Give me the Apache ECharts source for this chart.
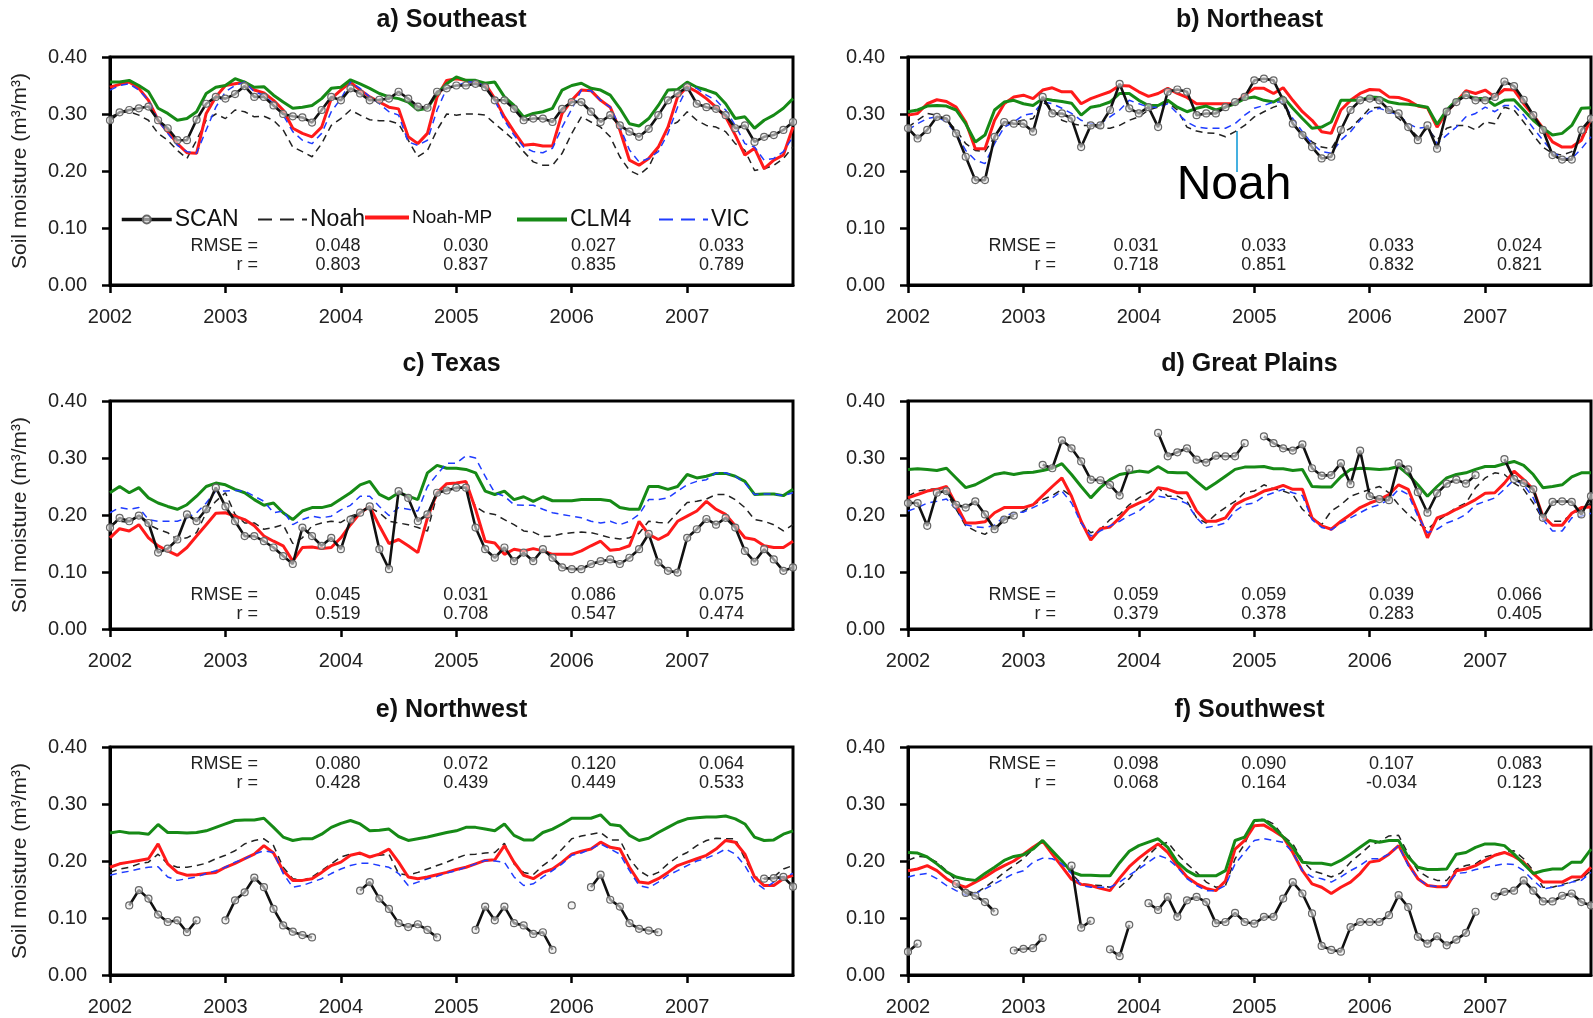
<!DOCTYPE html>
<html>
<head>
<meta charset="utf-8">
<title>Soil moisture, SCAN vs models</title>
<script src="https://cdn.jsdelivr.net/npm/echarts@6/dist/echarts.min.js"></script>
<style>
  html, body { margin: 0; padding: 0; background: #fff; }
  #chart { width: 1593px; height: 1018px; }
</style>
</head>
<body>
<div id="chart"></div>
<script>
// monthly values, Jan 2002 .. Dec 2007 (72 months), null = no SCAN data
const months = []
for (let y = 2002; y <= 2007; y++) {
  for (let m = 1; m <= 12; m++) months.push(y + '-' + (m < 10 ? '0' + m : m))
}

// a) Southeast
const seScan = [0.289,0.303,0.307,0.310,0.313,0.289,0.275,0.254,0.254,0.290,0.318,0.330,
  0.327,0.335,0.349,0.330,0.330,0.315,0.300,0.296,0.294,0.285,0.307,0.330,
  0.324,0.345,0.336,0.324,0.325,0.327,0.339,0.327,0.313,0.311,0.339,0.345,
  0.350,0.350,0.353,0.347,0.324,0.324,0.309,0.289,0.292,0.292,0.286,0.309,
  0.321,0.321,0.304,0.286,0.298,0.280,0.269,0.260,0.274,0.298,0.324,0.336,
  0.347,0.318,0.312,0.309,0.298,0.275,0.280,0.251,0.260,0.263,0.272,0.286]
const seNoah = [0.295,0.302,0.304,0.298,0.289,0.266,0.254,0.236,0.222,0.254,0.289,0.300,
  0.292,0.307,0.304,0.295,0.296,0.289,0.272,0.242,0.234,0.225,0.248,0.280,
  0.292,0.307,0.298,0.290,0.288,0.288,0.283,0.254,0.225,0.236,0.272,0.300,
  0.298,0.300,0.300,0.298,0.283,0.269,0.254,0.234,0.216,0.210,0.210,0.231,
  0.266,0.295,0.286,0.277,0.260,0.225,0.201,0.193,0.207,0.242,0.277,0.286,
  0.304,0.289,0.280,0.277,0.269,0.248,0.236,0.201,0.204,0.210,0.222,0.242]
const seNoahMP = [0.347,0.352,0.356,0.345,0.324,0.289,0.269,0.248,0.232,0.231,0.301,0.330,
  0.350,0.353,0.356,0.342,0.337,0.324,0.307,0.275,0.266,0.260,0.277,0.327,
  0.342,0.356,0.342,0.330,0.321,0.312,0.309,0.260,0.248,0.266,0.330,0.359,
  0.362,0.359,0.356,0.353,0.327,0.295,0.269,0.245,0.247,0.244,0.244,0.301,
  0.324,0.342,0.341,0.324,0.312,0.272,0.219,0.210,0.222,0.242,0.277,0.330,
  0.348,0.339,0.327,0.312,0.295,0.263,0.228,0.240,0.204,0.219,0.228,0.277]
const seClm4 = [0.356,0.356,0.359,0.350,0.339,0.310,0.301,0.289,0.292,0.304,0.336,0.347,
  0.350,0.362,0.356,0.347,0.348,0.333,0.321,0.310,0.312,0.315,0.327,0.345,
  0.347,0.360,0.353,0.345,0.336,0.330,0.327,0.321,0.307,0.310,0.336,0.353,
  0.365,0.359,0.359,0.354,0.356,0.330,0.315,0.295,0.301,0.304,0.310,0.342,
  0.350,0.354,0.345,0.342,0.333,0.310,0.283,0.279,0.292,0.315,0.342,0.343,
  0.356,0.347,0.342,0.336,0.318,0.292,0.295,0.275,0.289,0.298,0.310,0.327]
const seVic = [0.342,0.350,0.353,0.342,0.324,0.289,0.266,0.245,0.234,0.231,0.272,0.312,
  0.339,0.350,0.356,0.339,0.333,0.318,0.298,0.269,0.254,0.248,0.266,0.304,
  0.327,0.356,0.345,0.330,0.318,0.304,0.298,0.251,0.245,0.254,0.307,0.345,
  0.349,0.356,0.356,0.349,0.324,0.289,0.263,0.242,0.234,0.232,0.240,0.277,
  0.309,0.342,0.341,0.324,0.312,0.277,0.237,0.216,0.222,0.234,0.266,0.312,
  0.346,0.345,0.333,0.324,0.307,0.280,0.248,0.242,0.219,0.222,0.234,0.260]

// b) Northeast
const neScan = [0.275,0.257,0.272,0.295,0.292,0.266,0.225,0.184,0.184,0.260,0.286,0.283,
  0.283,0.269,0.330,0.301,0.301,0.292,0.242,0.280,0.280,0.307,0.353,0.310,
  0.301,0.312,0.277,0.339,0.343,0.339,0.298,0.301,0.301,0.312,0.321,0.330,
  0.359,0.362,0.359,0.324,0.283,0.263,0.242,0.222,0.225,0.272,0.307,0.324,
  0.327,0.324,0.307,0.301,0.277,0.254,0.280,0.239,0.304,0.321,0.333,0.324,
  0.324,0.330,0.357,0.349,0.325,0.298,0.272,0.228,0.220,0.220,0.272,0.292]
const neNoah = [0.277,0.289,0.301,0.298,0.289,0.272,0.248,0.236,0.234,0.260,0.283,0.286,
  0.289,0.292,0.321,0.310,0.289,0.283,0.280,0.280,0.275,0.275,0.280,0.289,
  0.295,0.307,0.312,0.321,0.307,0.277,0.270,0.267,0.266,0.260,0.269,0.280,
  0.295,0.304,0.312,0.318,0.283,0.266,0.251,0.242,0.239,0.266,0.275,0.292,
  0.310,0.312,0.304,0.292,0.277,0.260,0.275,0.254,0.275,0.280,0.280,0.272,
  0.286,0.283,0.312,0.307,0.286,0.263,0.242,0.231,0.228,0.234,0.260,0.277]
const neNoahMP = [0.298,0.301,0.318,0.325,0.322,0.312,0.286,0.239,0.239,0.289,0.318,0.330,
  0.333,0.327,0.342,0.346,0.339,0.339,0.318,0.327,0.333,0.339,0.350,0.349,
  0.339,0.331,0.336,0.345,0.336,0.329,0.318,0.318,0.318,0.318,0.318,0.333,
  0.345,0.345,0.336,0.346,0.324,0.304,0.289,0.269,0.266,0.307,0.324,0.336,
  0.343,0.342,0.330,0.329,0.324,0.314,0.311,0.277,0.304,0.321,0.341,0.336,
  0.342,0.330,0.343,0.342,0.318,0.298,0.275,0.251,0.242,0.242,0.254,0.292]
const neClm4 = [0.304,0.307,0.314,0.315,0.314,0.307,0.283,0.251,0.263,0.307,0.321,0.324,
  0.318,0.315,0.327,0.324,0.322,0.319,0.298,0.312,0.315,0.321,0.336,0.336,
  0.324,0.315,0.315,0.324,0.312,0.304,0.310,0.314,0.307,0.312,0.318,0.327,
  0.330,0.324,0.321,0.330,0.310,0.292,0.275,0.277,0.286,0.324,0.324,0.324,
  0.330,0.329,0.321,0.318,0.317,0.315,0.312,0.282,0.307,0.324,0.333,0.327,
  0.327,0.315,0.324,0.325,0.307,0.289,0.275,0.263,0.266,0.280,0.310,0.311]
const neVic = [0.272,0.283,0.292,0.295,0.286,0.266,0.236,0.219,0.213,0.248,0.277,0.286,
  0.298,0.301,0.321,0.318,0.310,0.301,0.289,0.283,0.283,0.295,0.307,0.324,
  0.318,0.312,0.312,0.318,0.301,0.286,0.277,0.275,0.275,0.275,0.283,0.298,
  0.310,0.315,0.321,0.321,0.292,0.269,0.248,0.234,0.231,0.254,0.269,0.289,
  0.304,0.310,0.304,0.298,0.283,0.275,0.277,0.248,0.263,0.277,0.295,0.301,
  0.312,0.304,0.315,0.315,0.298,0.275,0.254,0.234,0.222,0.222,0.239,0.260]

// c) Texas
const txScan = [0.178,0.195,0.189,0.199,0.186,0.134,0.141,0.157,0.201,0.189,0.210,0.248,
  0.215,0.189,0.163,0.163,0.154,0.143,0.128,0.114,0.178,0.163,0.146,0.160,
  0.140,0.192,0.204,0.215,0.140,0.105,0.242,0.230,0.189,0.201,0.239,0.243,
  0.248,0.248,0.178,0.140,0.125,0.143,0.119,0.134,0.119,0.140,0.125,0.108,
  0.105,0.105,0.114,0.119,0.122,0.114,0.125,0.140,0.167,0.117,0.102,0.099,
  0.160,0.175,0.193,0.183,0.195,0.178,0.137,0.118,0.140,0.122,0.102,0.108]
const txNoah = [0.183,0.189,0.187,0.198,0.183,0.175,0.169,0.157,0.160,0.169,0.204,0.224,
  0.239,0.201,0.186,0.186,0.175,0.178,0.183,0.150,0.160,0.181,0.186,0.189,
  0.187,0.198,0.204,0.213,0.204,0.189,0.186,0.183,0.178,0.172,0.236,0.246,
  0.246,0.249,0.215,0.204,0.201,0.192,0.183,0.172,0.170,0.162,0.163,0.167,
  0.169,0.170,0.169,0.165,0.160,0.158,0.160,0.168,0.189,0.187,0.186,0.204,
  0.222,0.224,0.228,0.236,0.236,0.227,0.213,0.192,0.189,0.183,0.172,0.183]
const txNoahMP = [0.160,0.176,0.172,0.183,0.160,0.146,0.137,0.129,0.143,0.163,0.183,0.203,
  0.204,0.198,0.192,0.181,0.163,0.154,0.146,0.119,0.143,0.144,0.141,0.143,
  0.160,0.183,0.204,0.215,0.181,0.150,0.157,0.146,0.134,0.195,0.239,0.255,
  0.256,0.259,0.210,0.154,0.151,0.131,0.140,0.137,0.141,0.137,0.131,0.131,
  0.131,0.137,0.146,0.154,0.138,0.140,0.146,0.189,0.166,0.157,0.166,0.189,
  0.198,0.207,0.224,0.210,0.201,0.181,0.160,0.157,0.146,0.143,0.143,0.154]
const txClm4 = [0.239,0.250,0.239,0.248,0.230,0.221,0.215,0.210,0.218,0.233,0.250,0.256,
  0.253,0.245,0.239,0.227,0.217,0.221,0.204,0.192,0.207,0.213,0.213,0.217,
  0.228,0.239,0.253,0.259,0.236,0.228,0.239,0.233,0.227,0.274,0.287,0.282,
  0.282,0.280,0.274,0.242,0.236,0.242,0.227,0.232,0.224,0.232,0.225,0.225,
  0.225,0.227,0.227,0.227,0.225,0.213,0.210,0.210,0.250,0.250,0.245,0.250,
  0.271,0.265,0.268,0.273,0.273,0.268,0.259,0.236,0.237,0.237,0.234,0.245]
const txVic = [0.204,0.213,0.210,0.213,0.192,0.189,0.189,0.189,0.195,0.204,0.221,0.242,
  0.242,0.243,0.242,0.233,0.224,0.204,0.207,0.183,0.192,0.198,0.195,0.198,
  0.209,0.217,0.233,0.233,0.215,0.199,0.213,0.210,0.207,0.250,0.271,0.291,
  0.291,0.304,0.300,0.268,0.239,0.233,0.218,0.217,0.217,0.210,0.204,0.201,
  0.198,0.195,0.189,0.186,0.189,0.183,0.189,0.201,0.227,0.227,0.230,0.242,
  0.253,0.259,0.262,0.274,0.274,0.268,0.256,0.236,0.237,0.237,0.234,0.239]

// d) Great Plains
const gpScan = [0.221,0.221,0.181,0.239,0.242,0.218,0.213,0.224,0.201,0.175,0.192,0.199,
  null,null,0.288,0.282,0.331,0.317,0.294,0.262,0.261,0.253,0.234,0.281,
  null,null,0.344,0.303,0.310,0.317,0.297,0.292,0.304,0.303,0.303,0.326,
  null,0.338,0.326,0.317,0.313,0.324,0.282,0.269,0.270,0.291,0.254,0.313,
  0.233,0.228,0.226,0.291,0.280,0.240,0.204,0.238,0.255,0.262,0.255,0.270,
  null,null,0.298,0.263,0.256,0.245,0.195,0.223,0.224,0.223,0.201,0.233]
const gpNoah = [0.233,0.242,0.245,0.246,0.239,0.210,0.181,0.172,0.166,0.178,0.195,0.201,
  0.207,0.218,0.227,0.234,0.245,0.233,0.186,0.169,0.175,0.192,0.201,0.218,
  0.230,0.239,0.248,0.233,0.233,0.224,0.195,0.186,0.201,0.213,0.224,0.239,
  0.242,0.253,0.246,0.242,0.236,0.210,0.195,0.183,0.207,0.218,0.233,0.239,
  0.245,0.250,0.239,0.218,0.201,0.186,0.175,0.189,0.201,0.213,0.221,0.248,
  0.265,0.274,0.271,0.256,0.245,0.221,0.192,0.189,0.189,0.201,0.210,0.221]
const gpNoahMP = [0.230,0.236,0.242,0.245,0.250,0.218,0.186,0.186,0.188,0.204,0.213,0.213,
  0.213,0.218,0.234,0.250,0.265,0.233,0.189,0.156,0.176,0.179,0.195,0.213,
  0.221,0.228,0.248,0.245,0.239,0.239,0.207,0.189,0.189,0.195,0.218,0.227,
  0.233,0.242,0.246,0.252,0.245,0.245,0.195,0.181,0.175,0.189,0.201,0.213,
  0.221,0.227,0.236,0.253,0.245,0.204,0.160,0.195,0.201,0.210,0.218,0.227,
  0.238,0.239,0.256,0.277,0.262,0.245,0.198,0.182,0.182,0.203,0.213,0.214]
const gpClm4 = [0.280,0.281,0.280,0.278,0.282,0.265,0.248,0.253,0.262,0.271,0.274,0.271,
  0.274,0.275,0.278,0.282,0.290,0.271,0.250,0.230,0.248,0.262,0.271,0.274,
  0.277,0.275,0.285,0.275,0.274,0.274,0.259,0.245,0.256,0.268,0.280,0.284,
  0.284,0.285,0.281,0.281,0.278,0.280,0.250,0.249,0.249,0.267,0.280,0.282,
  0.281,0.280,0.281,0.285,0.271,0.253,0.233,0.250,0.265,0.271,0.274,0.280,
  0.285,0.285,0.290,0.294,0.287,0.271,0.248,0.250,0.253,0.267,0.274,0.274]
const gpVic = [0.207,0.213,0.221,0.224,0.228,0.210,0.183,0.179,0.178,0.182,0.198,0.204,
  0.205,0.213,0.221,0.230,0.242,0.221,0.186,0.163,0.172,0.181,0.189,0.199,
  0.207,0.221,0.233,0.230,0.227,0.220,0.195,0.178,0.181,0.186,0.207,0.218,
  0.221,0.233,0.239,0.245,0.239,0.234,0.192,0.178,0.174,0.186,0.195,0.204,
  0.213,0.218,0.227,0.245,0.236,0.198,0.169,0.175,0.186,0.192,0.201,0.218,
  0.224,0.230,0.245,0.262,0.253,0.230,0.192,0.172,0.172,0.195,0.198,0.203]

// e) Northwest
const nwScan = [null,null,0.122,0.149,0.134,0.106,0.093,0.096,0.075,0.096,null,null,
  0.096,0.131,0.145,0.171,0.154,0.116,0.087,0.076,0.070,0.066,null,null,
  null,null,0.148,0.163,0.134,0.116,0.091,0.084,0.089,0.079,0.066,null,
  null,null,0.079,0.120,0.096,0.120,0.091,0.087,0.072,0.075,0.044,null,
  0.122,null,0.154,0.176,0.132,0.120,0.091,0.081,0.078,0.075,null,null,
  null,null,null,null,null,null,null,null,0.169,0.170,0.172,0.155]
const nwNoah = [0.180,0.186,0.189,0.195,0.198,0.212,0.195,0.189,0.189,0.192,0.196,0.204,
  0.210,0.218,0.230,0.236,0.239,0.227,0.189,0.169,0.166,0.172,0.183,0.195,
  0.207,0.212,0.212,0.207,0.210,0.212,0.178,0.175,0.180,0.186,0.192,0.198,
  0.205,0.211,0.212,0.214,0.215,0.231,0.195,0.180,0.176,0.192,0.204,0.221,
  0.239,0.244,0.247,0.250,0.237,0.237,0.204,0.183,0.173,0.180,0.195,0.207,
  0.215,0.227,0.236,0.240,0.239,0.239,0.204,0.172,0.169,0.172,0.186,0.192]
const nwNoahMP = [0.189,0.195,0.198,0.201,0.204,0.230,0.195,0.180,0.175,0.176,0.178,0.180,
  0.189,0.196,0.204,0.212,0.227,0.214,0.183,0.166,0.166,0.169,0.180,0.192,
  0.198,0.210,0.214,0.207,0.212,0.221,0.198,0.172,0.169,0.172,0.176,0.180,
  0.185,0.189,0.195,0.201,0.202,0.227,0.198,0.175,0.169,0.180,0.186,0.198,
  0.212,0.217,0.221,0.233,0.224,0.221,0.189,0.163,0.161,0.169,0.180,0.192,
  0.198,0.204,0.210,0.221,0.236,0.233,0.212,0.172,0.157,0.157,0.169,0.175]
const nwClm4 = [0.249,0.252,0.249,0.249,0.247,0.264,0.250,0.250,0.249,0.250,0.253,0.259,
  0.265,0.271,0.272,0.272,0.275,0.259,0.242,0.236,0.239,0.239,0.247,0.259,
  0.266,0.271,0.265,0.253,0.254,0.256,0.243,0.236,0.239,0.242,0.246,0.250,
  0.253,0.259,0.259,0.256,0.253,0.265,0.245,0.237,0.237,0.250,0.256,0.265,
  0.275,0.275,0.275,0.281,0.264,0.262,0.245,0.236,0.240,0.250,0.259,0.268,
  0.274,0.276,0.277,0.277,0.279,0.274,0.265,0.242,0.236,0.237,0.247,0.253]
const nwVic = [0.175,0.179,0.182,0.186,0.189,0.190,0.172,0.166,0.169,0.172,0.178,0.183,
  0.189,0.198,0.204,0.212,0.218,0.215,0.178,0.154,0.157,0.163,0.169,0.178,
  0.186,0.192,0.196,0.196,0.192,0.189,0.178,0.157,0.163,0.169,0.173,0.179,
  0.183,0.189,0.195,0.201,0.200,0.198,0.172,0.157,0.160,0.172,0.183,0.195,
  0.210,0.214,0.221,0.230,0.221,0.212,0.183,0.157,0.153,0.163,0.175,0.183,
  0.192,0.200,0.205,0.212,0.221,0.212,0.192,0.163,0.151,0.163,0.172,0.178]

// f) Southwest
const swScan = [0.041,0.055,null,null,null,0.160,0.144,0.139,0.128,0.111,null,0.043,
  0.046,0.047,0.065,null,null,0.192,0.083,0.095,null,0.045,0.033,0.088,
  null,0.126,0.114,0.137,0.102,0.131,0.137,0.128,0.091,0.093,0.109,0.093,
  0.090,0.102,0.102,0.134,0.163,0.143,0.108,0.051,0.044,0.041,0.084,0.093,
  0.093,0.093,0.105,0.140,0.119,0.067,0.055,0.068,0.052,0.062,0.074,0.111,
  null,0.138,0.146,0.148,0.166,0.148,0.129,0.129,0.139,0.143,0.128,0.122]
const swNoah = [0.201,0.208,0.207,0.198,0.183,0.166,0.148,0.143,0.154,0.166,0.180,0.192,
  0.204,0.221,0.236,0.212,0.201,0.178,0.160,0.158,0.157,0.154,0.154,0.169,
  0.189,0.210,0.227,0.233,0.212,0.195,0.180,0.163,0.154,0.157,0.204,0.230,
  0.269,0.274,0.265,0.244,0.230,0.201,0.183,0.178,0.172,0.179,0.198,0.212,
  0.227,0.234,0.244,0.245,0.212,0.183,0.172,0.166,0.166,0.186,0.192,0.195,
  0.207,0.212,0.215,0.218,0.204,0.183,0.154,0.154,0.159,0.163,0.169,0.183]
const swNoahMP = [0.183,0.186,0.192,0.183,0.169,0.159,0.154,0.163,0.172,0.183,0.192,0.200,
  0.212,0.224,0.235,0.212,0.190,0.168,0.159,0.157,0.152,0.148,0.170,0.190,
  0.205,0.218,0.230,0.215,0.192,0.172,0.160,0.152,0.148,0.165,0.221,0.236,
  0.262,0.263,0.253,0.242,0.215,0.183,0.160,0.154,0.143,0.154,0.163,0.178,
  0.198,0.201,0.212,0.227,0.195,0.169,0.157,0.155,0.155,0.183,0.186,0.192,
  0.201,0.210,0.215,0.208,0.198,0.178,0.163,0.163,0.163,0.172,0.172,0.189]
const swClm4 = [0.215,0.214,0.207,0.195,0.181,0.172,0.168,0.166,0.178,0.189,0.201,0.208,
  0.211,0.221,0.236,0.218,0.200,0.181,0.175,0.175,0.174,0.174,0.197,0.217,
  0.227,0.233,0.239,0.224,0.198,0.183,0.174,0.174,0.174,0.183,0.236,0.242,
  0.271,0.272,0.259,0.242,0.224,0.198,0.196,0.196,0.193,0.201,0.212,0.224,
  0.236,0.233,0.236,0.236,0.207,0.189,0.185,0.185,0.186,0.212,0.215,0.224,
  0.230,0.230,0.227,0.212,0.195,0.178,0.183,0.186,0.186,0.198,0.198,0.221]
const swVic = [0.172,0.176,0.178,0.169,0.157,0.148,0.140,0.143,0.151,0.160,0.169,0.178,
  0.183,0.198,0.205,0.204,0.195,0.178,0.157,0.154,0.154,0.154,0.163,0.175,
  0.186,0.198,0.210,0.204,0.189,0.169,0.157,0.148,0.148,0.157,0.195,0.215,
  0.236,0.239,0.236,0.233,0.215,0.183,0.172,0.169,0.163,0.172,0.183,0.192,
  0.204,0.204,0.212,0.227,0.192,0.169,0.157,0.155,0.157,0.178,0.180,0.185,
  0.189,0.192,0.195,0.194,0.183,0.166,0.151,0.154,0.157,0.163,0.166,0.180]

// RMSE and r for Noah, Noah-MP, CLM4, VIC
const seRmse = ['0.048', '0.030', '0.027', '0.033'], seR = ['0.803', '0.837', '0.835', '0.789']
const neRmse = ['0.031', '0.033', '0.033', '0.024'], neR = ['0.718', '0.851', '0.832', '0.821']
const txRmse = ['0.045', '0.031', '0.086', '0.075'], txR = ['0.519', '0.708', '0.547', '0.474']
const gpRmse = ['0.059', '0.059', '0.039', '0.066'], gpR = ['0.379', '0.378', '0.283', '0.405']
const nwRmse = ['0.080', '0.072', '0.120', '0.064'], nwR = ['0.428', '0.439', '0.449', '0.533']
const swRmse = ['0.098', '0.090', '0.107', '0.083'], swR = ['0.068', '0.164', '-0.034', '0.123']

const yTicks = [0, 0.1, 0.2, 0.3, 0.4]

const FONT = "'Liberation Sans', Arial, Helvetica, sans-serif"
const colLeft = [110, 908]
const rowTop = [57, 401, 747]
const statsOffset = [189, 194, 17]
const plotW = 683
const plotH = 228

const panels = [
  { title: 'a) Southeast', col: 0, row: 0, scan: seScan, noah: seNoah, mp: seNoahMP, clm: seClm4, vic: seVic, rmse: seRmse, r: seR },
  { title: 'b) Northeast', col: 1, row: 0, scan: neScan, noah: neNoah, mp: neNoahMP, clm: neClm4, vic: neVic, rmse: neRmse, r: neR },
  { title: 'c) Texas', col: 0, row: 1, scan: txScan, noah: txNoah, mp: txNoahMP, clm: txClm4, vic: txVic, rmse: txRmse, r: txR },
  { title: 'd) Great Plains', col: 1, row: 1, scan: gpScan, noah: gpNoah, mp: gpNoahMP, clm: gpClm4, vic: gpVic, rmse: gpRmse, r: gpR },
  { title: 'e) Northwest', col: 0, row: 2, scan: nwScan, noah: nwNoah, mp: nwNoahMP, clm: nwClm4, vic: nwVic, rmse: nwRmse, r: nwR },
  { title: 'f) Southwest', col: 1, row: 2, scan: swScan, noah: swNoah, mp: swNoahMP, clm: swClm4, vic: swVic, rmse: swRmse, r: swR }
]

const lineStyles = {
  SCAN: { color: '#111', width: 2.6, type: 'solid' },
  Noah: { color: '#222', width: 1.5, type: [7, 5] },
  'Noah-MP': { color: '#ff1a1a', width: 3, type: 'solid' },
  CLM4: { color: '#168a16', width: 3, type: 'solid' },
  VIC: { color: '#1f3cff', width: 1.5, type: [7, 5] }
}

const grids = []
const xAxes = []
const yAxes = []
const series = []
const graphics = []

const mkSeries = (name, data, idx, z) => {
  const ls = lineStyles[name]
  const s = {
    name: name,
    type: 'line',
    data: data,
    xAxisIndex: idx,
    yAxisIndex: idx,
    z: z,
    animation: false,
    silent: true,
    connectNulls: false,
    lineStyle: { color: ls.color, width: ls.width, type: ls.type },
    itemStyle: { color: ls.color }
  }
  if (name === 'SCAN') {
    s.symbol = 'circle'
    s.symbolSize = 7
    s.showSymbol = true
    s.showAllSymbol = true
    s.itemStyle = { color: 'rgba(235,235,235,0.6)', borderColor: '#666', borderWidth: 1.2 }
  } else {
    s.symbol = 'none'
    s.showSymbol = false
  }
  return s
}

panels.forEach((p, i) => {
  const left = colLeft[p.col]
  const top = rowTop[p.row]
  grids.push({
    left: left, top: top, width: plotW, height: plotH,
    show: true, borderColor: '#000', borderWidth: 3, backgroundColor: 'transparent'
  })
  xAxes.push({
    type: 'category',
    gridIndex: i,
    data: months,
    boundaryGap: false,
    axisLine: { show: true, lineStyle: { color: '#000', width: 3 } },
    axisTick: {
      show: true, inside: false, length: 8,
      interval: (idx) => idx % 12 === 0,
      lineStyle: { color: '#000', width: 2.5 }
    },
    axisLabel: {
      show: true, margin: 22,
      interval: (idx) => idx % 12 === 0,
      formatter: (v) => v.slice(0, 4),
      fontFamily: FONT, fontSize: 20, color: '#222'
    },
    splitLine: { show: false }
  })
  yAxes.push({
    type: 'value',
    gridIndex: i,
    min: yTicks[0],
    max: yTicks[yTicks.length - 1],
    interval: 0.1,
    name: p.col === 0 ? 'Soil moisture (m³/m³)' : '',
    nameLocation: 'middle',
    nameGap: 79,
    nameTextStyle: { fontFamily: FONT, fontSize: 21, color: '#222' },
    axisLine: { show: true, lineStyle: { color: '#000', width: 3 } },
    axisTick: { show: true, inside: false, length: 8, lineStyle: { color: '#000', width: 2.5 } },
    axisLabel: {
      margin: 23,
      formatter: (v) => v.toFixed(2),
      fontFamily: FONT, fontSize: 20, color: '#222'
    },
    splitLine: { show: false }
  })

  series.push(mkSeries('Noah', p.noah, i, 2))
  series.push(mkSeries('Noah-MP', p.mp, i, 3))
  series.push(mkSeries('CLM4', p.clm, i, 3))
  series.push(mkSeries('VIC', p.vic, i, 4))
  series.push(mkSeries('SCAN', p.scan, i, 5))

  // panel title
  graphics.push({
    type: 'text', silent: true,
    style: {
      text: p.title, x: left + plotW / 2, y: top - 37,
      textAlign: 'center', textVerticalAlign: 'middle',
      font: 'bold 25px ' + FONT, fill: '#111'
    }
  })

  // RMSE and r rows
  const y1 = top + statsOffset[p.row]
  const y2 = y1 + 19
  graphics.push({
    type: 'text', silent: true,
    style: { text: 'RMSE =', x: left + 148, y: y1, textAlign: 'right', textVerticalAlign: 'middle', font: '18px ' + FONT, fill: '#222' }
  })
  graphics.push({
    type: 'text', silent: true,
    style: { text: 'r =', x: left + 148, y: y2, textAlign: 'right', textVerticalAlign: 'middle', font: '18px ' + FONT, fill: '#222' }
  })
  p.rmse.forEach((v, k) => {
    const cx = left + 228 + 127.8 * k
    graphics.push({
      type: 'text', silent: true,
      style: { text: v, x: cx, y: y1, textAlign: 'center', textVerticalAlign: 'middle', font: '18px ' + FONT, fill: '#222' }
    })
    graphics.push({
      type: 'text', silent: true,
      style: { text: p.r[k], x: cx, y: y2, textAlign: 'center', textVerticalAlign: 'middle', font: '18px ' + FONT, fill: '#222' }
    })
  })
})

// "Noah" callout in panel b
graphics.push({
  type: 'line', silent: true,
  shape: { x1: 1237, y1: 131, x2: 1237, y2: 172 },
  style: { stroke: '#45b0e0', lineWidth: 2 }
})
graphics.push({
  type: 'text', silent: true,
  style: { text: 'Noah', x: 1234, y: 186, textAlign: 'center', textVerticalAlign: 'middle', font: '48px ' + FONT, fill: '#000' }
})

// legend of panel a, one component per item so each sits where it does in the figure
const legendItems = [
  { name: 'SCAN', left: 120, w: 50, size: 23, marker: true, lw: 3.5, dash: 'solid' },
  { name: 'Noah', left: 257, w: 49, size: 23, marker: false, lw: 2, dash: [14, 8] },
  { name: 'Noah-MP', left: 363, w: 44, size: 19, marker: false, lw: 4, dash: 'solid' },
  { name: 'CLM4', left: 515, w: 50, size: 23, marker: false, lw: 4, dash: 'solid' },
  { name: 'VIC', left: 658, w: 49, size: 23, marker: false, lw: 2, dash: [14, 8] }
]
const legends = legendItems.map((it) => ({
  data: [it.name],
  left: it.left,
  top: 208,
  padding: 0,
  itemWidth: it.w,
  itemHeight: 10,
  itemGap: 0,
  selectedMode: false,
  itemStyle: it.marker ? {} : { opacity: 0 },
  lineStyle: { width: it.lw, type: it.dash },
  textStyle: { fontFamily: FONT, fontSize: it.size, color: '#111', padding: [0, 0, 0, -2] }
}))

const chart = echarts.init(document.getElementById('chart'), null, { renderer: 'canvas' })
chart.setOption({
  backgroundColor: '#fff',
  animation: false,
  legend: legends,
  grid: grids,
  xAxis: xAxes,
  yAxis: yAxes,
  series: series,
  graphic: graphics
})
</script>
</body>
</html>
